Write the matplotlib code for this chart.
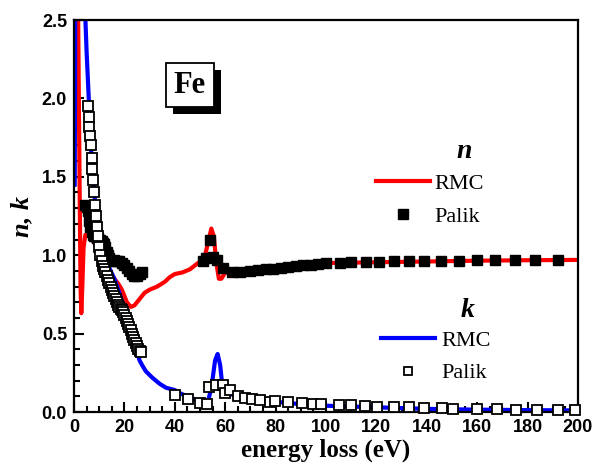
import matplotlib
matplotlib.use("Agg")
import matplotlib.pyplot as plt
from matplotlib import patheffects
from matplotlib.ticker import MultipleLocator
from matplotlib.lines import Line2D

# RMC refractive index n (red line)
rmc_n_e = [0.9, 1.6, 2.2, 2.6, 2.9, 3.3, 3.8, 4.5, 6, 7, 8, 10, 12, 14, 16, 17.5, 19, 21,
           22.5, 24, 26, 28, 30, 33, 36, 38, 40, 43, 46, 50, 52, 53.5, 54.5, 55.5, 56.5,
           57.5, 58.5, 60, 65, 70, 80, 90, 100, 120, 140, 160, 180, 200]
rmc_n = [2.6, 2.6, 1.5, 0.8, 0.63, 0.8, 1.05, 1.13, 1.12, 1.1, 1.08, 1.02, 0.96, 0.9, 0.85,
         0.82, 0.78, 0.7, 0.67, 0.68, 0.72, 0.76, 0.78, 0.8, 0.83, 0.86, 0.88, 0.89, 0.91,
         0.96, 1.0, 1.1, 1.17, 1.12, 0.95, 0.85, 0.85, 0.89, 0.9, 0.91, 0.925, 0.94, 0.95,
         0.955, 0.96, 0.965, 0.968, 0.97]

# RMC extinction coefficient k (blue line)
rmc_k_e = [0.3, 0.5, 4.3, 5, 6, 7, 8, 9, 10, 12, 14, 16, 18, 20, 22, 24, 26, 27, 28.5, 31,
           34, 36.5, 40, 42, 45, 48, 51, 53, 54.5, 56, 57, 58, 59, 61, 65, 70, 80, 90, 100,
           120, 140, 160, 180, 200]
rmc_k = [1.45, 2.6, 2.6, 2.3, 1.95, 1.6, 1.4, 1.25, 1.12, 1.0, 0.92, 0.85, 0.76, 0.66,
         0.55, 0.45, 0.33, 0.3, 0.26, 0.22, 0.18, 0.155, 0.14, 0.12, 0.1, 0.08, 0.065, 0.06,
         0.15, 0.33, 0.37, 0.3, 0.15, 0.12, 0.1, 0.085, 0.065, 0.05, 0.04, 0.03, 0.02,
         0.015, 0.012, 0.01]

# Palik n (filled squares)
palik_n_e = [4.5, 5, 5.5, 6, 6.5, 7, 7.5, 8, 8.5, 9, 9.5, 10, 10.5, 11, 11.5, 12, 12.5, 13,
             13.5, 14, 15, 16, 17, 18, 19, 20, 21, 22, 23, 24, 25, 26, 27,
             51.3, 52.5, 54, 55.3, 56.6, 59.3, 62.6, 65.9, 69.8, 73, 76, 79, 82, 85, 88,
             91, 94, 97, 100, 105.6, 110, 115.8, 121, 127, 133, 139, 145.6, 152.6, 160,
             167, 175, 183, 192]
palik_n = [1.32, 1.31, 1.28, 1.22, 1.18, 1.15, 1.13, 1.12, 1.12, 1.11, 1.11, 1.1, 1.1, 1.09,
           1.08, 1.07, 1.05, 1.02, 1.0, 0.98, 0.96, 0.97, 0.96, 0.96, 0.95, 0.94, 0.92, 0.9,
           0.88, 0.87, 0.87, 0.88, 0.89,
           0.96, 0.98, 1.1, 0.99, 0.97, 0.92, 0.89, 0.89, 0.9, 0.905, 0.91, 0.915, 0.92,
           0.925, 0.93, 0.935, 0.94, 0.945, 0.95, 0.952, 0.955, 0.957, 0.958, 0.96, 0.962,
           0.963, 0.965, 0.966, 0.967, 0.968, 0.969, 0.97, 0.97]

# Palik k (open squares)
palik_k_e = [5.5, 5.8, 6.1, 6.4, 6.7, 7.0, 7.3, 7.6, 8.0, 8.4, 8.8, 9.2, 9.6, 10.0, 10.5, 11,
             11.5, 12, 12.5, 13, 13.5, 14, 14.5, 15, 15.5, 16, 16.5, 17, 17.5, 18, 18.5, 19,
             19.5, 20, 20.5, 21, 21.5, 22, 22.5, 23, 23.5, 24, 24.5, 25, 25.5, 26, 26.5,
             40.1, 45.4, 50, 52.6, 53.7, 56.3, 59.3, 60, 62, 65.2, 67.9, 70.5, 73.8, 77.8,
             79.8, 84.9, 90.3, 95, 98, 105, 110, 115.6, 120.4, 127, 133, 139, 145.9, 150.4,
             159.8, 167.7, 175.4, 183.6, 192, 198.8]
palik_k = [1.95, 1.88, 1.82, 1.76, 1.7, 1.62, 1.55, 1.48, 1.4, 1.32, 1.25, 1.18, 1.12, 1.05,
           1.0, 0.96, 0.93, 0.91, 0.89, 0.87, 0.84, 0.82, 0.8, 0.78, 0.76, 0.74, 0.72, 0.7,
           0.68, 0.67, 0.66, 0.65, 0.64, 0.62, 0.6, 0.58, 0.56, 0.54, 0.52, 0.5, 0.48, 0.46,
           0.44, 0.42, 0.4, 0.39, 0.38,
           0.108, 0.08, 0.055, 0.05, 0.16, 0.17, 0.17, 0.12, 0.14, 0.1, 0.09, 0.085, 0.075,
           0.065, 0.07, 0.065, 0.057, 0.052, 0.05, 0.045, 0.042, 0.04, 0.035, 0.032, 0.03,
           0.027, 0.025, 0.022, 0.02, 0.018, 0.016, 0.015, 0.014, 0.013]

serif = "Liberation Serif"
sans = "Liberation Sans"

fig = plt.figure(figsize=(6.03, 4.72), dpi=100)
ax = fig.add_axes([0.1227, 0.1271, 0.8358, 0.8305])

ax.plot(rmc_n_e, rmc_n, color="#ff0000", lw=3, zorder=2, solid_joinstyle="round")
ax.plot(rmc_k_e, rmc_k, color="#0000ff", lw=3, zorder=2, solid_joinstyle="round")
ax.plot(palik_n_e, palik_n, ls="none", marker="s", ms=7, mfc="black", mec="black",
        zorder=3, clip_on=False)
ax.plot(palik_k_e, palik_k, ls="none", marker="s", ms=6.5, mfc="white", mec="black",
        mew=1.3, zorder=3, clip_on=False)

ax.set_xlim(0, 200)
ax.set_ylim(0, 2.5)
ax.xaxis.set_major_locator(MultipleLocator(20))
ax.xaxis.set_minor_locator(MultipleLocator(5))
ax.yaxis.set_major_locator(MultipleLocator(0.5))
ax.yaxis.set_minor_locator(MultipleLocator(0.1))
ax.yaxis.set_major_formatter(matplotlib.ticker.FormatStrFormatter("%.1f"))
ax.tick_params(which="both", direction="in", top=False, right=False, width=1.5)
ax.tick_params(which="major", length=7, pad=5)
ax.tick_params(which="minor", length=4)
for lab in ax.get_xticklabels() + ax.get_yticklabels():
    lab.set_fontfamily(sans)
    lab.set_fontweight("bold")
    lab.set_fontsize(13)
for sp in ax.spines.values():
    sp.set_linewidth(1.6)

ax.set_xlabel("energy loss (eV)", family=serif, fontweight="bold", fontsize=18, labelpad=2)
ax.set_ylabel("n, k", family=serif, fontweight="bold", style="italic", fontsize=19,
              labelpad=6)

# Fe label with shadowed box
fe = ax.text(0.23, 0.834, "Fe", transform=ax.transAxes, ha="center", va="center",
             family=serif, fontweight="bold", fontsize=22,
             bbox=dict(boxstyle="square,pad=0.25", fc="white", ec="black", lw=1.3))
fe.get_bbox_patch().set_path_effects([
    patheffects.SimplePatchShadow(offset=(5, -5), shadow_rgbFace="black", alpha=1),
    patheffects.Normal()])

# legend groups
ax.text(0.775, 0.665, "n", transform=ax.transAxes, ha="center", va="center",
        family=serif, fontweight="bold", style="italic", fontsize=20)
ax.text(0.78, 0.26, "k", transform=ax.transAxes, ha="center", va="center",
        family=serif, fontweight="bold", style="italic", fontsize=20)

h_n = [Line2D([], [], color="#ff0000", lw=3),
       Line2D([], [], ls="none", marker="s", ms=6.5, mfc="black", mec="black")]
h_k = [Line2D([], [], color="#0000ff", lw=3),
       Line2D([], [], ls="none", marker="s", ms=6, mfc="white", mec="black", mew=1.3)]
leg_props = dict(family=serif, size=16)
leg1 = ax.legend(h_n, ["RMC", "Palik"], loc="upper left", bbox_to_anchor=(0.6, 0.609),
                 frameon=False, prop=leg_props, handlelength=2.4, handletextpad=0.2,
                 labelspacing=0.55, borderpad=0, borderaxespad=0)
ax.add_artist(leg1)
ax.legend(h_k, ["RMC", "Palik"], loc="upper left", bbox_to_anchor=(0.61, 0.209),
          frameon=False, prop=leg_props, handlelength=2.4, handletextpad=0.3,
          labelspacing=0.55, borderpad=0, borderaxespad=0)

fig.savefig("out.png", dpi=100)
